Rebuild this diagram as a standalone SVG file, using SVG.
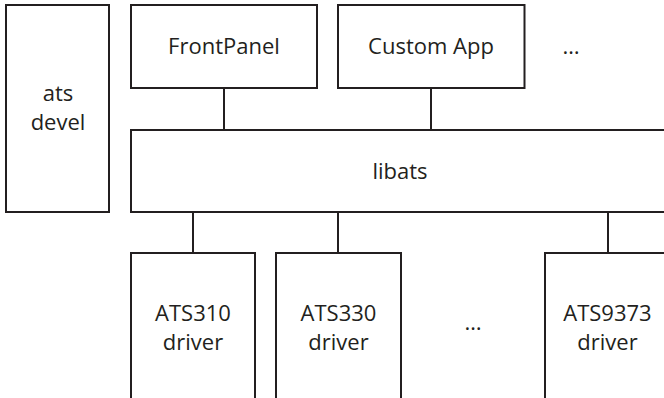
<svg xmlns="http://www.w3.org/2000/svg" width="664" height="398" viewBox="0 0 664 398">
<style>
.box{fill:#fff;stroke:#231f20;stroke-width:2}
.conn line{stroke:#231f20;stroke-width:2}
text{font-family:"Open Sans","Noto Sans",sans-serif;font-size:22px;fill:#231f20;text-anchor:middle}
</style>
<rect width="664" height="398" fill="#fff"/>
<g id="conn" class="conn">
<line x1="224" y1="88" x2="224" y2="130"/>
<line x1="431" y1="88" x2="431" y2="130"/>
<line x1="193" y1="212" x2="193" y2="253"/>
<line x1="338" y1="212" x2="338" y2="253"/>
<line x1="608" y1="212" x2="608" y2="253"/>
</g>
<g id="atsdevel"><rect class="box" x="6" y="5" width="103" height="207"/><text x="58" y="100.5">ats</text><text x="58" y="129.5">devel</text></g>
<g id="frontpanel"><rect class="box" x="131" y="5" width="186" height="83"/><text x="224" y="54">FrontPanel</text></g>
<g id="customapp"><rect class="box" x="338" y="5" width="186.5" height="83"/><text x="431" y="54">Custom App</text></g>
<g id="apps-more"><text x="571" y="54">…</text></g>
<g id="libats"><rect class="box" x="131" y="130" width="545" height="82"/><text x="400" y="178.5">libats</text></g>
<g id="ats310"><rect class="box" x="131" y="253" width="124" height="160"/><text x="193" y="321">ATS310</text><text x="193" y="350">driver</text></g>
<g id="ats330"><rect class="box" x="276" y="253" width="125" height="160"/><text x="338.5" y="321">ATS330</text><text x="338.5" y="350">driver</text></g>
<g id="drivers-more"><text x="473" y="330">…</text></g>
<g id="ats9373"><rect class="box" x="545" y="253" width="125" height="160"/><text x="607.5" y="321">ATS9373</text><text x="607.5" y="350">driver</text></g>
</svg>
